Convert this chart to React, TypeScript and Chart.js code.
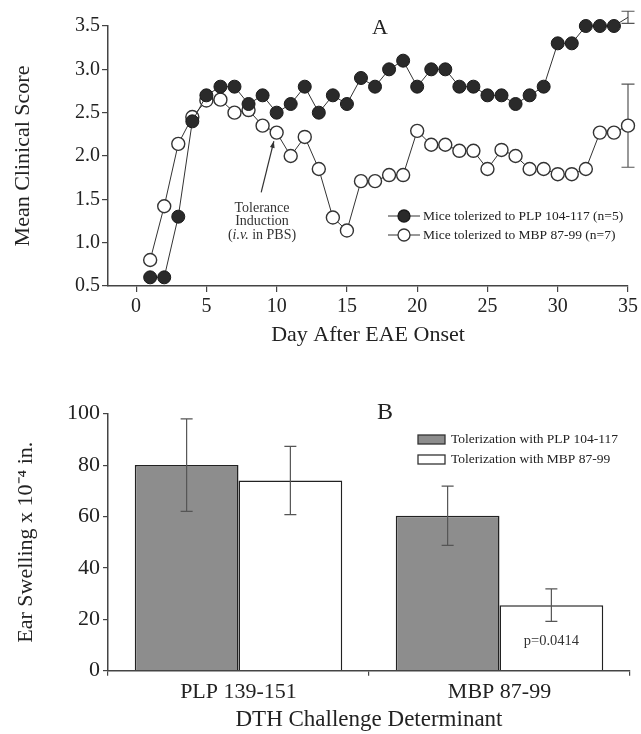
import React, { useEffect, useRef } from 'react';
import { Chart, registerables } from 'chart.js';

Chart.register(...registerables);

// ---------------- Panel A data ----------------
const days = [1, 2, 3, 4, 5, 6, 7, 8, 9, 10, 11, 12, 13, 14, 15, 16, 17, 18, 19, 20, 21, 22, 23, 24, 25, 26, 27, 28, 29, 30, 31, 32, 33, 34, 35];
const plpScores = [0.6, 0.6, 1.3, 2.4, 2.7, 2.8, 2.8, 2.6, 2.7, 2.5, 2.6, 2.8, 2.5, 2.7, 2.6, 2.9, 2.8, 3.0, 3.1, 2.8, 3.0, 3.0, 2.8, 2.8, 2.7, 2.7, 2.6, 2.7, 2.8, 3.3, 3.3, 3.5, 3.5, 3.5, 3.6];
const mbpScores = [0.8, 1.42, 2.14, 2.45, 2.64, 2.65, 2.5, 2.53, 2.35, 2.27, 2.0, 2.22, 1.85, 1.29, 1.14, 1.71, 1.71, 1.78, 1.78, 2.29, 2.13, 2.13, 2.06, 2.06, 1.85, 2.07, 2.0, 1.85, 1.85, 1.79, 1.79, 1.85, 2.27, 2.27, 2.35];
const errorDays = [35];
const plpErrors = [0.07];
const mbpErrors = [0.48];
const seriesLabelsA = ['Mice tolerized to PLP 104-117 (n=5)', 'Mice tolerized to MBP 87-99 (n=7)'];
const dayTicks = [0, 5, 10, 15, 20, 25, 30, 35];
const annotationLines = ['Tolerance', 'Induction'];

// ---------------- Panel B data ----------------
const determinants = ['PLP 139-151', 'MBP 87-99'];
const plpTolSwelling = [80, 60.3];
const plpTolErrors = [18, 11.5];
const mbpTolSwelling = [74, 25.5];
const mbpTolErrors = [13.3, 6.3];
const seriesLabelsB = ['Tolerization with PLP 104-117', 'Tolerization with MBP 87-99'];
const pValueText = 'p=0.0414';

const SERIF = '"Liberation Serif", "Times New Roman", serif';
const AXIS = '#444';
const INK = '#222';
const GRAY_BAR = '#8d8d8d';

function errorBar(ctx: CanvasRenderingContext2D, x: number, yTop: number, yBot: number, cap: number) {
  ctx.beginPath();
  ctx.moveTo(x, yTop);
  ctx.lineTo(x, yBot);
  ctx.moveTo(x - cap / 2, yTop);
  ctx.lineTo(x + cap / 2, yTop);
  ctx.moveTo(x - cap / 2, yBot);
  ctx.lineTo(x + cap / 2, yBot);
  ctx.stroke();
}

const panelAPlugin = {
  id: 'panelAExtras',
  beforeDatasetsDraw(chart: any) {
    const ctx = chart.ctx as CanvasRenderingContext2D;
    const xs = chart.scales.x;
    const ys = chart.scales.y;
    ctx.save();
    ctx.strokeStyle = '#555';
    ctx.lineWidth = 1.2;
    errorDays.forEach((d, i) => {
      const idx = days.indexOf(d);
      const x = xs.getPixelForValue(d);
      const p = plpScores[idx];
      errorBar(ctx, x, ys.getPixelForValue(p + plpErrors[i]), ys.getPixelForValue(p - plpErrors[i]), 13);
      const m = mbpScores[idx];
      errorBar(ctx, x, ys.getPixelForValue(m + mbpErrors[i]), ys.getPixelForValue(m - mbpErrors[i]), 13);
    });
    ctx.restore();
  },
  afterDraw(chart: any) {
    const ctx = chart.ctx as CanvasRenderingContext2D;
    const xs = chart.scales.x;
    const ys = chart.scales.y;
    ctx.save();
    // panel letter
    ctx.fillStyle = INK;
    ctx.font = `22px ${SERIF}`;
    ctx.textAlign = 'center';
    ctx.textBaseline = 'middle';
    ctx.fillText('A', 380, 28);

    // legend
    const rows = [216, 235];
    rows.forEach((y, i) => {
      ctx.strokeStyle = '#333';
      ctx.lineWidth = 1;
      ctx.beginPath();
      ctx.moveTo(388, y);
      ctx.lineTo(420, y);
      ctx.stroke();
      ctx.beginPath();
      ctx.arc(404, y, 6, 0, Math.PI * 2);
      ctx.fillStyle = i === 0 ? '#2a2a2a' : '#fff';
      ctx.fill();
      ctx.lineWidth = 1.3;
      ctx.strokeStyle = i === 0 ? '#1a1a1a' : '#333';
      ctx.stroke();
      ctx.fillStyle = INK;
      ctx.font = `13.5px ${SERIF}`;
      ctx.textAlign = 'left';
      ctx.textBaseline = 'middle';
      ctx.fillText(seriesLabelsA[i], 423, y + 0.5);
    });

    // annotation text
    ctx.fillStyle = '#333';
    ctx.textAlign = 'center';
    ctx.textBaseline = 'middle';
    ctx.font = `14px ${SERIF}`;
    const cx = 262;
    ctx.fillText(annotationLines[0], cx, 208);
    ctx.fillText(annotationLines[1], cx, 221.5);
    // "(i.v. in PBS)" with italic i.v.
    const p1 = '(';
    const p2 = 'i.v.';
    const p3 = ' in PBS)';
    ctx.font = `14px ${SERIF}`;
    const w1 = ctx.measureText(p1).width;
    const w3 = ctx.measureText(p3).width;
    ctx.font = `italic 14px ${SERIF}`;
    const w2 = ctx.measureText(p2).width;
    let x0 = cx - (w1 + w2 + w3) / 2;
    ctx.textAlign = 'left';
    ctx.font = `14px ${SERIF}`;
    ctx.fillText(p1, x0, 235);
    x0 += w1;
    ctx.font = `italic 14px ${SERIF}`;
    ctx.fillText(p2, x0, 235);
    x0 += w2;
    ctx.font = `14px ${SERIF}`;
    ctx.fillText(p3, x0, 235);

    // arrow
    const tx = xs.getPixelForValue(8.9);
    const ty = ys.getPixelForValue(1.58);
    const hx = xs.getPixelForValue(9.8);
    const hy = ys.getPixelForValue(2.17);
    ctx.strokeStyle = '#333';
    ctx.lineWidth = 1.2;
    ctx.beginPath();
    ctx.moveTo(tx, ty);
    ctx.lineTo(hx, hy);
    ctx.stroke();
    const ang = Math.atan2(hy - ty, hx - tx);
    const L = 7;
    const W = 0.35;
    ctx.fillStyle = '#333';
    ctx.beginPath();
    ctx.moveTo(hx, hy);
    ctx.lineTo(hx - L * Math.cos(ang - W), hy - L * Math.sin(ang - W));
    ctx.lineTo(hx - L * Math.cos(ang + W), hy - L * Math.sin(ang + W));
    ctx.closePath();
    ctx.fill();
    ctx.restore();
  },
};

const panelBPlugin = {
  id: 'panelBExtras',
  afterDatasetsDraw(chart: any) {
    const ctx = chart.ctx as CanvasRenderingContext2D;
    const ys = chart.scales.y;
    ctx.save();
    ctx.strokeStyle = '#555';
    ctx.lineWidth = 1.2;
    const sets = [
      { vals: plpTolSwelling, errs: plpTolErrors },
      { vals: mbpTolSwelling, errs: mbpTolErrors },
    ];
    sets.forEach((s, di) => {
      const meta = chart.getDatasetMeta(di);
      s.vals.forEach((v, i) => {
        const x = meta.data[i].x;
        errorBar(ctx, x, ys.getPixelForValue(v + s.errs[i]), ys.getPixelForValue(v - s.errs[i]), 12);
      });
    });
    // p-value
    const m = chart.getDatasetMeta(1).data[1];
    ctx.fillStyle = '#333';
    ctx.font = `14.5px ${SERIF}`;
    ctx.textAlign = 'center';
    ctx.textBaseline = 'middle';
    ctx.fillText(pValueText, m.x, ys.getPixelForValue(11.5));
    ctx.restore();
  },
  afterDraw(chart: any) {
    const ctx = chart.ctx as CanvasRenderingContext2D;
    ctx.save();
    ctx.fillStyle = INK;
    ctx.font = `24px ${SERIF}`;
    ctx.textAlign = 'center';
    ctx.textBaseline = 'middle';
    ctx.fillText('B', 385, 33);
    const rows = [59.5, 79.5];
    const fills = [GRAY_BAR, '#fff'];
    rows.forEach((y, i) => {
      ctx.fillStyle = fills[i];
      ctx.fillRect(418, y - 4.5, 27, 9);
      ctx.strokeStyle = '#333';
      ctx.lineWidth = 1.3;
      ctx.strokeRect(418, y - 4.5, 27, 9);
      ctx.fillStyle = INK;
      ctx.font = `13.5px ${SERIF}`;
      ctx.textAlign = 'left';
      ctx.textBaseline = 'middle';
      ctx.fillText(seriesLabelsB[i], 451, y);
    });
    ctx.restore();
  },
};

export default function App() {
  const refA = useRef<HTMLCanvasElement>(null);
  const refB = useRef<HTMLCanvasElement>(null);

  useEffect(() => {
    Chart.defaults.font.family = SERIF;
    const chartA = new Chart(refA.current as HTMLCanvasElement, {
      type: 'line',
      data: {
        datasets: [
          {
            label: seriesLabelsA[0],
            data: days.map((d, i) => ({ x: d, y: plpScores[i] })),
            borderColor: '#333',
            borderWidth: 1,
            pointRadius: 6.5,
            pointBackgroundColor: '#2a2a2a',
            pointBorderColor: '#1a1a1a',
            pointBorderWidth: 1,
            tension: 0,
            clip: false,
          },
          {
            label: seriesLabelsA[1],
            data: days.map((d, i) => ({ x: d, y: mbpScores[i] })),
            borderColor: '#333',
            borderWidth: 1,
            pointRadius: 6.5,
            pointBackgroundColor: '#fff',
            pointBorderColor: '#333',
            pointBorderWidth: 1.4,
            tension: 0,
            clip: false,
          },
        ],
      },
      options: {
        responsive: false,
        animation: false,
        events: [],
        layout: { padding: { top: 26, right: 13, left: 0, bottom: 0 } },
        plugins: { legend: { display: false }, tooltip: { enabled: false } },
        scales: {
          x: {
            type: 'linear',
            min: -2,
            max: 35,
            afterBuildTicks: (s: any) => {
              s.ticks = dayTicks.map((v) => ({ value: v }));
            },
            afterFit: (s: any) => {
              s.height = 74;
            },
            grid: { drawOnChartArea: false, drawTicks: true, tickLength: 6, color: AXIS, lineWidth: 1.2 },
            border: { color: AXIS, width: 1.5 },
            ticks: { font: { size: 20, family: SERIF }, color: INK, padding: 3, maxRotation: 0 },
            title: { display: true, text: 'Day After EAE Onset', font: { size: 22, family: SERIF }, color: INK, padding: { top: 0, bottom: 12 } },
          },
          y: {
            type: 'linear',
            min: 0.5,
            max: 3.5,
            afterFit: (s: any) => {
              s.width = 108;
            },
            grid: { drawOnChartArea: false, drawTicks: true, tickLength: 6, color: AXIS, lineWidth: 1.2 },
            border: { color: AXIS, width: 1.5 },
            ticks: { stepSize: 0.5, font: { size: 20, family: SERIF }, color: INK, padding: 2, callback: (v: any) => Number(v).toFixed(1) },
            title: { display: true, text: 'Mean Clinical Score', font: { size: 22, family: SERIF }, color: INK, padding: { top: 10, bottom: 0 } },
          },
        },
      },
      plugins: [panelAPlugin],
    } as any);

    const chartB = new Chart(refB.current as HTMLCanvasElement, {
      type: 'bar',
      data: {
        labels: determinants,
        datasets: [
          {
            label: seriesLabelsB[0],
            data: plpTolSwelling,
            backgroundColor: GRAY_BAR,
            borderColor: '#222',
            borderWidth: 1.5,
            categoryPercentage: 0.795,
            barPercentage: 1,
          },
          {
            label: seriesLabelsB[1],
            data: mbpTolSwelling,
            backgroundColor: '#fff',
            borderColor: '#222',
            borderWidth: 1.5,
            categoryPercentage: 0.795,
            barPercentage: 1,
          },
        ],
      },
      options: {
        responsive: false,
        animation: false,
        events: [],
        layout: { padding: { top: 33.7, right: 11, left: 0, bottom: 0 } },
        plugins: { legend: { display: false }, tooltip: { enabled: false } },
        scales: {
          x: {
            offset: true,
            afterFit: (s: any) => {
              s.height = 63.3;
            },
            grid: { offset: true, drawOnChartArea: false, drawTicks: true, tickLength: 5, color: AXIS, lineWidth: 1.2 },
            border: { color: AXIS, width: 1.5 },
            ticks: { font: { size: 22, family: SERIF }, color: INK, padding: 3 },
            title: { display: true, text: 'DTH Challenge Determinant', font: { size: 23, family: SERIF }, color: INK, padding: { top: 0, bottom: 0 } },
          },
          y: {
            min: 0,
            max: 100,
            afterFit: (s: any) => {
              s.width = 108;
            },
            grid: { drawOnChartArea: false, drawTicks: true, tickLength: 5, color: AXIS, lineWidth: 1.2 },
            border: { color: AXIS, width: 1.5 },
            ticks: { stepSize: 20, font: { size: 22, family: SERIF }, color: INK, padding: 3 },
            title: { display: true, text: 'Ear Swelling x 10\u207B\u2074 in.', font: { size: 22, family: SERIF }, color: INK, padding: { top: 13, bottom: 0 } },
          },
        },
      },
      plugins: [panelBPlugin],
    } as any);

    return () => {
      chartA.destroy();
      chartB.destroy();
    };
  }, []);

  return (
    <div style={{ position: 'absolute', left: 0, top: 0, width: 641, height: 734, background: '#fff', overflow: 'hidden' }}>
      <canvas ref={refA} width={641} height={360} style={{ position: 'absolute', left: 0, top: 0, width: 641, height: 360 }} />
      <canvas ref={refB} width={641} height={354} style={{ position: 'absolute', left: 0, top: 380, width: 641, height: 354 }} />
    </div>
  );
}
